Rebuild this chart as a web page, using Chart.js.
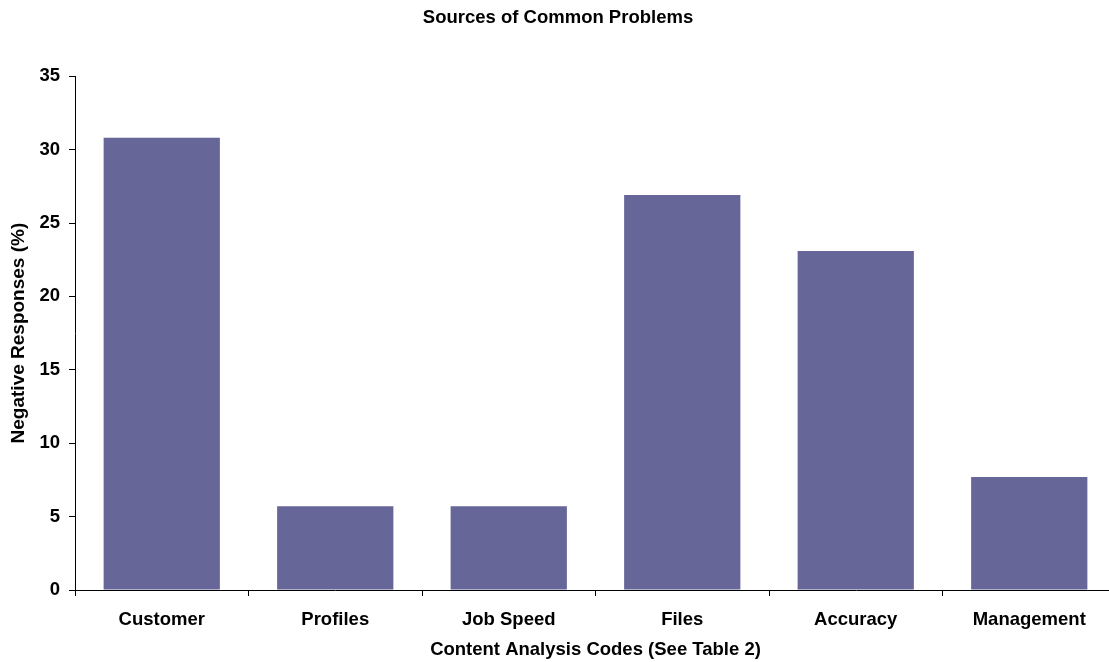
<!DOCTYPE html>
<html>
<head>
<meta charset="utf-8">
<script src="https://cdn.jsdelivr.net/npm/chart.js@4/dist/chart.umd.min.js"></script>
<style>
html,body{margin:0;padding:0;background:#fff;overflow:hidden;}
#wrap{width:1120px;height:662px;position:relative;}
</style>
</head>
<body>
<div id="wrap"><canvas id="c"></canvas></div>
<script>
const categories = ["Customer", "Profiles", "Job Speed", "Files", "Accuracy", "Management"];
const negativeResponses = [30.8, 5.7, 5.7, 26.9, 23.1, 7.7];
const chartTitle = "Sources of Common Problems";
const xTitle = "Content Analysis Codes (See Table 2)";
const yTitle = "Negative Responses (%)";

const FONT = "'Liberation Sans', Arial, sans-serif";

new Chart(document.getElementById('c'), {
  type: 'bar',
  data: {
    labels: categories,
    datasets: [{
      data: negativeResponses,
      backgroundColor: '#666699',
      borderWidth: 0,
      barPercentage: 0.67,
      categoryPercentage: 1.0
    }]
  },
  options: {
    responsive: true,
    maintainAspectRatio: false,
    animation: false,
    layout: { padding: { left: 0, right: 4, top: 0, bottom: 0 } },
    plugins: {
      legend: { display: false },
      tooltip: { enabled: false },
      title: {
        display: true,
        text: chartTitle,
        color: '#000',
        font: { family: FONT, size: 18.5, weight: 'bold' },
        padding: { top: 7, bottom: 47 }
      }
    },
    scales: {
      x: {
        grid: { display: true, drawOnChartArea: false, drawTicks: true, tickLength: 6, color: '#000', offset: true },
        border: { display: true, color: '#000', width: 1 },
        ticks: { color: '#000', font: { family: FONT, size: 18.5, weight: 'bold' }, padding: 13, maxRotation: 0, autoSkip: false },
        title: { display: true, text: xTitle, color: '#000', font: { family: FONT, size: 18.5, weight: 'bold' }, padding: { top: 0, bottom: 1 } },
        afterFit: (s) => { s.height = 72; }
      },
      y: {
        min: 0, max: 35,
        grid: { display: true, drawOnChartArea: false, drawTicks: true, tickLength: 6, color: '#000' },
        border: { display: true, color: '#000', width: 1 },
        ticks: { stepSize: 5, color: '#000', font: { family: FONT, size: 18.5, weight: 'bold' }, padding: 9 },
        title: { display: true, text: yTitle, color: '#000', font: { family: FONT, size: 19, weight: 'bold' }, padding: { top: 7, bottom: 0 } },
        afterFit: (s) => { s.width = 75; }
      }
    }
  }
});
</script>
</body>
</html>
